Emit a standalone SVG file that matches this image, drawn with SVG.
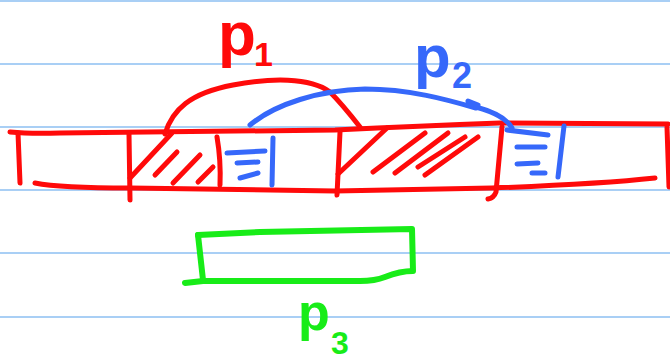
<svg xmlns="http://www.w3.org/2000/svg" width="670" height="361" viewBox="0 0 670 361">
<style>
.rule{stroke:#a9cff5;stroke-width:2;fill:none}
.r{stroke:#ff0a0a;stroke-width:5;fill:none;stroke-linecap:round;stroke-linejoin:round}
.b{stroke:#3668fa;stroke-width:5;fill:none;stroke-linecap:round;stroke-linejoin:round}
.g{stroke:#18ec18;stroke-width:6;fill:none;stroke-linecap:round;stroke-linejoin:round}
.lbl{font-family:"Liberation Sans",Arial,sans-serif;font-weight:bold}
</style>
<rect width="670" height="361" fill="#ffffff"/>
<g id="ruled-lines">
<line class="rule" x1="0" y1="1" x2="670" y2="1"/>
<line class="rule" x1="0" y1="64" x2="670" y2="64"/>
<line class="rule" x1="0" y1="127" x2="670" y2="127"/>
<line class="rule" x1="0" y1="190" x2="670" y2="190"/>
<line class="rule" x1="0" y1="253" x2="670" y2="253"/>
<line class="rule" x1="0" y1="317" x2="670" y2="317"/>
</g>
<g id="bar">
<path class="r" d="M10,132 Q30,134 60,133 L335,130 Q420,126 500,123 L668,124"/>
<path class="r" d="M18,133 L20,183"/>
<path class="r" d="M35,183 Q60,188 130,188 L335,191 L492,188 Q600,184 655,178"/>
<path class="r" d="M129,134 L130,200"/>
<path class="r" d="M217,137 Q221,160 220,185"/>
<path class="r" d="M340,132 L337,195"/>
<path class="r" d="M502,127 L496,192 Q494,198 488,199"/>
<path class="r" d="M667,127 L669,187"/>
</g>
<g id="hatch-1">
<path class="r" d="M130,178 L172,133"/>
<path class="r" d="M155,175 L177,152 M173,183 L200,155 M198,182 L213,167"/>
</g>
<g id="hatch-2">
<path class="r" d="M338,174 L387,128"/>
<path class="r" d="M373,172 L425,133 M395,173 L448,133 M418,167 L465,137 M425,175 L478,137"/>
</g>
<g id="queue-1">
<path class="b" d="M227,153 L265,151 M237,163 L258,162 M240,178 L258,173"/>
<path class="b" d="M273,138 L272,185"/>
</g>
<g id="queue-2">
<path class="b" d="M507,130 L548,135 M517,147 L545,147 M517,164 L538,163 M532,173 L545,173"/>
<path class="b" d="M564,126 L558,177"/>
</g>
<g id="p3-box">
<path class="g" d="M198,235 L260,232 L412,229 L413,271 Q400,271 385,277 Q375,281 360,281 L203,281 L185,283"/>
<path class="g" d="M198,235 L203,280"/>
</g>
<g id="connectors">
<path class="r" d="M165,134 C172,110 190,93 233,85 C270,78 310,77 330,92 Q342,104 360,127"/>
<path class="b" d="M250,125 C275,104 320,90 365,89 C410,89 448,100 476,108 M468,101 L478,105 M476,107 Q505,115 512,128"/>
</g>
<g id="labels">
<text class="lbl" x="218" y="55" font-size="62" fill="#ff0a0a">p</text>
<text class="lbl" x="254" y="66" font-size="34" fill="#ff0a0a">1</text>
<text class="lbl" x="414" y="77" font-size="60" fill="#3668fa">p</text>
<text class="lbl" x="452" y="88" font-size="36" fill="#3668fa">2</text>
<text class="lbl" x="298" y="330" font-size="52" fill="#18ec18">p</text>
<text class="lbl" x="331" y="354" font-size="32" fill="#18ec18">3</text>
</g>
</svg>
